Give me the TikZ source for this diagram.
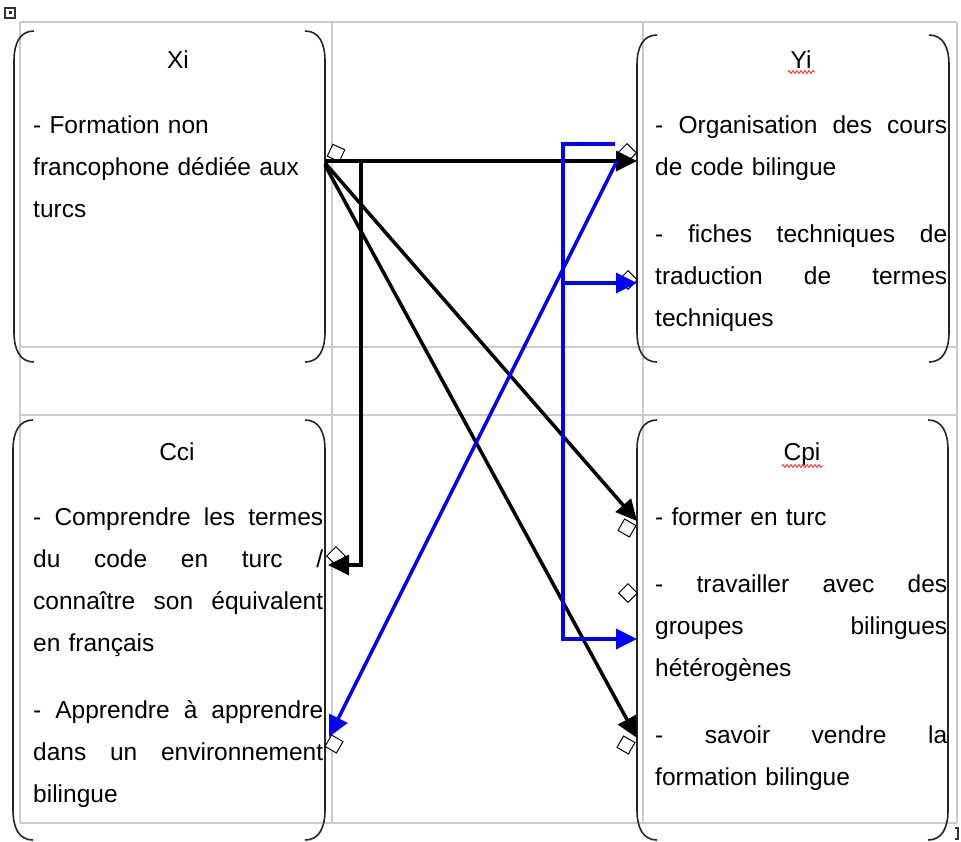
\documentclass[tikz,border=0pt]{standalone}
\usepackage{fontspec}
\setmainfont{Liberation Sans}
\usetikzlibrary{arrows.meta,calc,shapes.geometric,decorations.pathmorphing}

% rounded bracket pair drawn on the left and right sides of a box area
\newcommand\parenbox[1]{%
  \draw[brk] ($(#1.north west)+(20,0)$) .. controls ($(#1.north west)+(6,0)$) and ($(#1.north west)+(0,12)$) .. ($(#1.north west)+(0,30)$)
    -- ($(#1.south west)+(0,-30)$) .. controls ($(#1.south west)+(0,-12)$) and ($(#1.south west)+(6,0)$) .. ($(#1.south west)+(20,0)$);
  \draw[brk] ($(#1.north east)+(-20,0)$) .. controls ($(#1.north east)+(-6,0)$) and ($(#1.north east)+(0,12)$) .. ($(#1.north east)+(0,30)$)
    -- ($(#1.south east)+(0,-30)$) .. controls ($(#1.south east)+(0,-12)$) and ($(#1.south east)+(-6,0)$) .. ($(#1.south east)+(-20,0)$);
}

\begin{document}
\begin{tikzpicture}[x=1pt,y=-1pt,
  grid/.style={draw=black!20, line width=1.3pt},
  brk/.style={draw=black!85, line width=1.6pt},
  boxarea/.style={draw=none, inner sep=0pt, outer sep=0pt, anchor=north west},
  title/.style={anchor=base, inner sep=0pt, font=\fontsize{24.5pt}{42pt}\selectfont},
  body/.style={anchor=base west, inner sep=0pt, align=left, font=\fontsize{24.5pt}{42pt}\selectfont},
  blk/.style={draw=black, line width=3.5pt, -{Triangle[length=21pt,width=20pt]}},
  blu/.style={draw=blue, line width=3.5pt, -{Triangle[length=21pt,width=20pt]}},
  glue/.style={diamond, draw=black, fill=white, line width=1pt, inner sep=0pt, minimum size=19pt},
  spell/.style={draw=red!85, line width=0.9pt, decorate, decoration={zigzag, segment length=4pt, amplitude=1.4pt}},
]
\useasboundingbox (0,0) rectangle (961,841);
\fill[white] (0,0) rectangle (961,841);

% table grid
\draw[grid] (20,22) -- (957,22);
\draw[grid] (20,347) -- (957,347);
\draw[grid] (20,415) -- (957,415);
\draw[grid] (20,823) -- (957,823);
\draw[grid] (20,22) -- (20,823);
\draw[grid] (332,22) -- (332,823);
\draw[grid] (643,22) -- (643,823);
\draw[grid] (957,22) -- (957,823);

% table handles
\draw[black!80, line width=1.2pt] (5,8) rectangle (15,18);
\fill[black!80] (9,11) rectangle (12,14);
\draw[black!80, line width=1.2pt] (955,828) -- (958,828) -- (958,839) -- (955,839);

% box areas
\node[boxarea, minimum width=311pt, minimum height=331pt] (Xi) at (14,31) {};
\node[boxarea, minimum width=312pt, minimum height=327pt] (Yi) at (637,35) {};
\node[boxarea, minimum width=312pt, minimum height=420pt] (Cci) at (13,420) {};
\node[boxarea, minimum width=311pt, minimum height=420pt] (Cpi) at (637,420) {};

\parenbox{Xi}
\parenbox{Yi}
\parenbox{Cci}
\parenbox{Cpi}

% titles
\node[title] (XiT) at (178,68) {Xi};
\node[title] (YiT) at (801,68) {Yi};
\node[title] (CciT) at (177,460) {Cci};
\node[title] (CpiT) at (802,460) {Cpi};
\draw[spell] (788,72) -- (815,72);
\draw[spell] (782,466) -- (823,466);

% box texts
\node[body, text width=290pt] (XiB) at (33,133) {%
- Formation non\\
francophone dédiée aux\\
turcs};

\node[body, text width=292pt] (YiB) at (655,133) {%
- \hfill Organisation \hfill des \hfill cours\\
de code bilingue\\[25pt]
- \hfill fiches \hfill techniques \hfill de\\
traduction \hfill de \hfill termes\\
techniques};

\node[body, text width=290pt] (CciB) at (33,525) {%
- \hfill Comprendre \hfill les \hfill termes\\
du \hfill code \hfill en \hfill turc \hfill /\\
connaître \hfill son \hfill équivalent\\
en français\\[25pt]
- \hfill Apprendre \hfill à \hfill apprendre\\
dans \hfill un \hfill environnement\\
bilingue};

\node[body, text width=292pt] (CpiB) at (655,525) {%
- former en turc\\[25pt]
- \hfill travailler \hfill avec \hfill des\\
groupes \hfill bilingues\\
hétérogènes\\[25pt]
- \hfill savoir \hfill vendre \hfill la\\
formation bilingue};

% connection points
\coordinate (xiOut) at ($(Xi.north east)+(0,130)$);
\coordinate (yiIn) at ($(Yi.north west)+(0,126)$);
\coordinate (yiIn2) at ($(Yi.north west)+(0,248)$);
\coordinate (yiBlue) at ($(Yi.north west)+(-20,126)$);
\coordinate (yiTop) at ($(Yi.north west)+(-22,109)$);
\coordinate (blueBar) at ($(yiTop)+(-52,0)$);
\coordinate (blueJoin) at ($(blueBar)+(0,139)$);
\coordinate (cciIn) at ($(Cci.north east)+(3,145)$);
\coordinate (cciIn2) at ($(Cci.north east)+(4,317)$);
\coordinate (cpiIn) at ($(Cpi.north west)+(0,101)$);
\coordinate (cpiIn2) at ($(Cpi.north west)+(0,219)$);
\coordinate (cpiIn3) at ($(Cpi.north west)+(0,318)$);

% glue marks
\node[glue, rotate=20] (gXi) at (336,153) {};
\node[glue] (gYi) at (627,153) {};
\node[glue] (gYi2) at (628,280) {};
\node[glue] (gCci) at (336,556) {};
\node[glue, rotate=15] (gCci2) at (334,744) {};
\node[glue, rotate=15] (gCpi) at (627,528) {};
\node[glue] (gCpi2) at (628,593) {};
\node[glue, rotate=15] (gCpi3) at (626,745) {};

% black connectors
\draw[blk] (xiOut) -- (yiIn);
\draw[blk] (xiOut) -- ++(36,0) |- (cciIn);
\draw[blk] ($(xiOut)+(0,2)$) -- (cpiIn);
\draw[blk] ($(xiOut)+(0,4)$) -- (cpiIn3);

% blue connectors
\draw[blu] (yiBlue) -- (cciIn2);
\draw[blu] (yiTop) -- (blueBar) |- (cpiIn2);
\draw[blu] (blueJoin) -- (yiIn2);
\end{tikzpicture}
\end{document}
